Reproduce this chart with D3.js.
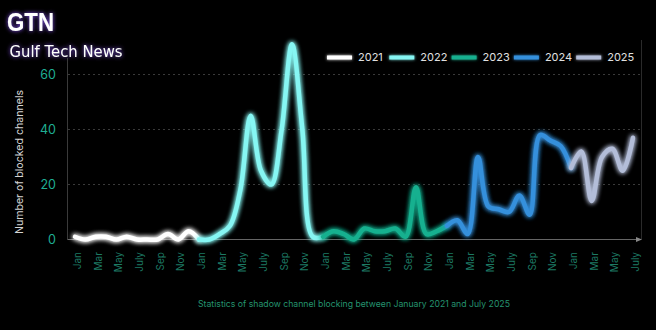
<!DOCTYPE html>
<html>
<head>
<meta charset="utf-8">
<script src="https://cdn.jsdelivr.net/npm/d3@7/dist/d3.min.js"></script>
<style>
html,body{margin:0;padding:0;background:#000;}
svg{display:block;}
</style>
</head>
<body>
<script>
// ---- data ----
const years = ["2021", "2022", "2023", "2024", "2025"];
const monthNames = ["Jan","Feb","Mar","Apr","May","Jun","Jul","Aug","Sep","Oct","Nov","Dec"];
const tickLabels = ["Jan","Mar","May","July","Sep","Nov"];
const values2021 = [1, 0, 1, 1, 0, 1, 0, 0, 0, 2, 0, 3];
const values2022 = [0, 0, 2, 5, 18, 45, 25, 20, 40, 71, 40, 1];
const values2023 = [1, 3, 2, 0, 4, 3, 3, 4, 1, 19, 2, 3];
const values2024 = [5, 7, 2, 30, 12, 11, 10, 16, 9, 38, 36, 34];
const values2025 = [26, 32, 14, 30, 33, 25, 37];
const yTicks = [0, 20, 40, 60];
const seriesColors = ["#ffffff", "#86f6f3", "#16b08f", "#3590dc", "#b3bdd8"];

const W = 656, H = 330;
const allValues = [values2021, values2022, values2023, values2024, values2025];

// flat monthly list
const points = [];
allValues.forEach((arr, yi) => arr.forEach((v, mi) => points.push({key: years[yi] + "-" + mi, year: yi, month: mi, value: v})));

const x = d3.scalePoint().domain(points.map(d => d.key)).range([75, 633]);
const y = d3.scaleLinear().domain([0, 60]).range([239.5, 74.5]);

const svg = d3.select("body").append("svg").attr("width", W).attr("height", H);
const defs = svg.append("defs");

// glow filter for lines
const glow = defs.append("filter").attr("id", "glow").attr("filterUnits", "userSpaceOnUse")
  .attr("x", 0).attr("y", 0).attr("width", W).attr("height", H);
glow.append("feGaussianBlur").attr("in", "SourceGraphic").attr("stdDeviation", 2.6).attr("result", "b");
const gm = glow.append("feMerge");
gm.append("feMergeNode").attr("in", "b");
gm.append("feMergeNode").attr("in", "b");
gm.append("feMergeNode").attr("in", "SourceGraphic");

const glowS = defs.append("filter").attr("id", "glowS").attr("filterUnits", "userSpaceOnUse")
  .attr("x", 0).attr("y", 0).attr("width", W).attr("height", H);
glowS.append("feGaussianBlur").attr("in", "SourceGraphic").attr("stdDeviation", 1.8).attr("result", "b");
const gms = glowS.append("feMerge");
gms.append("feMergeNode").attr("in", "b");
gms.append("feMergeNode").attr("in", "SourceGraphic");

// purple glow for logo
const pg = defs.append("filter").attr("id", "pglow").attr("x", "-30%").attr("y", "-50%").attr("width", "160%").attr("height", "200%");
pg.append("feGaussianBlur").attr("in", "SourceAlpha").attr("stdDeviation", 2.2).attr("result", "a");
pg.append("feFlood").attr("flood-color", "#8e55ff").attr("flood-opacity", 0.95);
pg.append("feComposite").attr("in2", "a").attr("operator", "in").attr("result", "c");
const pm = pg.append("feMerge");
pm.append("feMergeNode").attr("in", "c");
pm.append("feMergeNode").attr("in", "SourceGraphic");

svg.append("rect").attr("width", W).attr("height", H).attr("fill", "#000");

// logo
svg.append("text").attr("x", 7).attr("y", 30.5).attr("fill", "#fff")
  .attr("font-family", "Liberation Sans, Arial, sans-serif").attr("font-weight", "bold")
  .attr("font-size", 26).attr("textLength", 47).attr("lengthAdjust", "spacingAndGlyphs")
  .attr("filter", "url(#pglow)").text("GTN");
svg.append("text").attr("x", 9.5).attr("y", 57).attr("fill", "#fff")
  .attr("font-family", "DejaVu Sans, sans-serif")
  .attr("font-size", 16.5).attr("textLength", 113).attr("lengthAdjust", "spacingAndGlyphs")
  .attr("filter", "url(#pglow)").text("Gulf Tech News");

// gridlines
svg.append("g").selectAll("line").data(yTicks.filter(t => t > 0)).join("line")
  .attr("x1", 68).attr("x2", 641).attr("y1", d => y(d)).attr("y2", d => y(d))
  .attr("stroke", "#3a3a3a").attr("stroke-width", 1).attr("stroke-dasharray", "2,3");

// axes lines
svg.append("line").attr("x1", 67.5).attr("x2", 67.5).attr("y1", 58).attr("y2", 239.5).attr("stroke", "#3a3a3a");
svg.append("line").attr("x1", 641.5).attr("x2", 641.5).attr("y1", 40).attr("y2", 239.5).attr("stroke", "#2a2a2a");
svg.append("line").attr("x1", 67.5).attr("x2", 638).attr("y1", 239.5).attr("y2", 239.5).attr("stroke", "#666");
svg.append("path").attr("d", "M636,237 L642,239.5 L636,242 Z").attr("fill", "#888");

// y ticks
svg.append("g").selectAll("text").data(yTicks).join("text")
  .attr("x", 56).attr("y", d => y(d) + 4.5).attr("text-anchor", "end")
  .attr("fill", "#1fae93").attr("font-family", "Inter, sans-serif").attr("font-size", 12.5)
  .text(d => d);

// y axis title
svg.append("text").attr("transform", "translate(22.5,162) rotate(-90)").attr("text-anchor", "middle")
  .attr("fill", "#d4d4d4").attr("font-family", "Inter, sans-serif").attr("font-size", 10.6)
  .text("Number of blocked channels");

// x tick labels (every other month)
const tickPts = points.filter(d => d.month % 2 === 0);
svg.append("g").selectAll("text").data(tickPts).join("text")
  .attr("transform", d => `translate(${x(d.key) + 6},252) rotate(-90)`)
  .attr("text-anchor", "end")
  .attr("fill", "#1d7a64").attr("font-family", "Inter, sans-serif").attr("font-size", 10)
  .text(d => tickLabels[d.month / 2]);

// lines
const line = d3.line().x(d => x(d.key)).y(d => y(d.value)).curve(d3.curveCatmullRom.alpha(0.5));
const lineG = svg.append("g");
years.forEach((yr, yi) => {
  const seg = points.filter(d => d.year === yi);
  const next = points.find(d => d.year === yi + 1 && d.month === 0);
  if (next) seg.push(next);
  lineG.append("path").datum(seg).attr("d", line)
    .attr("fill", "none").attr("stroke", seriesColors[yi]).attr("stroke-width", 4.5)
    .attr("stroke-linecap", "round").attr("stroke-linejoin", "round")
    .attr("filter", "url(#glow)");
});

// legend
const lg = svg.append("g");
years.forEach((yr, i) => {
  const lx = 327 + i * 62.3;
  lg.append("rect").attr("x", lx).attr("y", 55.5).attr("width", 25).attr("height", 4)
    .attr("fill", seriesColors[i]).attr("filter", "url(#glowS)");
  lg.append("text").attr("x", lx + 31).attr("y", 61).attr("fill", "#e0e0e0")
    .attr("font-family", "Inter, sans-serif").attr("font-size", 11).text(yr);
});

// caption
svg.append("text").attr("x", 354).attr("y", 306.5).attr("text-anchor", "middle")
  .attr("fill", "#24946f").attr("font-family", "Inter, sans-serif").attr("font-size", 8.7)
  .text("Statistics of shadow channel blocking between January 2021 and July 2025");
</script>
</body>
</html>
